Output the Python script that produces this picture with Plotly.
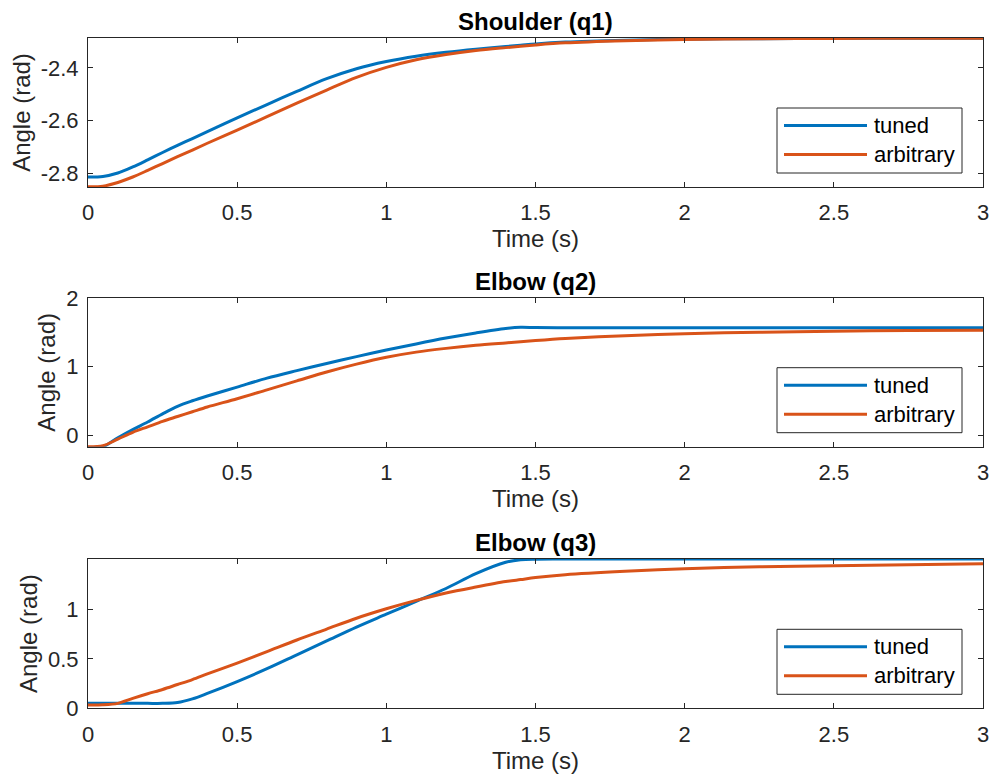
import plotly.graph_objects as go

# ---------------- data ----------------
t = [0, 0.05, 0.1, 0.15, 0.2, 0.25, 0.3, 0.35, 0.4, 0.5, 0.6, 0.7, 0.8, 0.9, 1.0,
     1.1, 1.2, 1.3, 1.4, 1.45, 1.5, 1.6, 1.8, 2.0, 2.25, 2.5, 2.75, 3.0]

q1_tuned = [-2.814, -2.812, -2.799, -2.776, -2.749, -2.721, -2.694, -2.668, -2.642, -2.590,
            -2.539, -2.489, -2.441, -2.403, -2.376, -2.356, -2.341, -2.329, -2.319, -2.314,
            -2.309, -2.302, -2.295, -2.291, -2.289, -2.288, -2.287, -2.287]
q1_arbitrary = [-2.851, -2.849, -2.835, -2.814, -2.789, -2.763, -2.737, -2.712, -2.686, -2.636,
                -2.585, -2.534, -2.484, -2.436, -2.398, -2.369, -2.349, -2.334, -2.323, -2.318,
                -2.313, -2.305, -2.297, -2.292, -2.289, -2.288, -2.287, -2.287]

q2_tuned = [-0.18, -0.17, -0.04, 0.08, 0.19, 0.31, 0.42, 0.50, 0.57, 0.70,
            0.83, 0.94, 1.045, 1.145, 1.24, 1.33, 1.415, 1.49, 1.555, 1.572,
            1.568, 1.565, 1.565, 1.565, 1.565, 1.565, 1.565, 1.565]
q2_arbitrary = [-0.17, -0.155, -0.06, 0.04, 0.12, 0.20, 0.27, 0.34, 0.41, 0.53,
                0.66, 0.79, 0.92, 1.035, 1.135, 1.21, 1.265, 1.31, 1.345, 1.362,
                1.38, 1.41, 1.45, 1.48, 1.50, 1.515, 1.525, 1.53]

q3_tuned = [0.05, 0.05, 0.05, 0.05, 0.05, 0.05, 0.058, 0.095, 0.15, 0.27,
            0.40, 0.54, 0.68, 0.82, 0.95, 1.08, 1.21, 1.36, 1.475, 1.50,
            1.506, 1.507, 1.507, 1.507, 1.507, 1.507, 1.507, 1.507]
q3_arbitrary = [0.033, 0.035, 0.05, 0.10, 0.147, 0.19, 0.24, 0.29, 0.347, 0.457,
                0.573, 0.69, 0.80, 0.91, 1.005, 1.09, 1.165, 1.225, 1.28, 1.30,
                1.32, 1.35, 1.385, 1.41, 1.43, 1.44, 1.45, 1.46]

titles = ["Shoulder (q1)", "Elbow (q2)", "Elbow (q3)"]
series_names = ["tuned", "arbitrary"]
x_ticks = [0, 0.5, 1, 1.5, 2, 2.5, 3]
x_ticklabels = ["0", "0.5", "1", "1.5", "2", "2.5", "3"]
y_ticks = [[-2.8, -2.6, -2.4], [0, 1, 2], [0, 0.5, 1]]
y_ticklabels = [["-2.8", "-2.6", "-2.4"], ["0", "1", "2"], ["0", "0.5", "1"]]
y_ranges = [[-2.852, -2.2865], [-0.17, 2.0], [0.0, 1.508]]

# ---------------- layout geometry (pixels) ----------------
W, H = 992, 781
AX_L, AX_R = 88, 983
AX_TB = [(38, 187), (298, 446.7), (559, 708.3)]

BLUE = "#0072BD"
ORANGE = "#D95319"
AXC = "#262626"
FONT = "Arial, 'Liberation Sans', Helvetica, sans-serif"

data = [(q1_tuned, q1_arbitrary), (q2_tuned, q2_arbitrary), (q3_tuned, q3_arbitrary)]

fig = go.Figure()
annotations = []
shapes = []


def px_x(p):
    return p / W


def px_y(p):
    return 1 - p / H


for i, (yt, ya) in enumerate(data):
    xa = "x" if i == 0 else f"x{i+1}"
    ya_ = "y" if i == 0 else f"y{i+1}"
    for vals, col, name in [(yt, BLUE, series_names[0]), (ya, ORANGE, series_names[1])]:
        fig.add_trace(go.Scatter(
            x=t, y=vals, mode="lines", name=name, showlegend=False,
            line=dict(color=col, width=3, shape="spline", smoothing=0.9),
            xaxis=xa, yaxis=ya_, cliponaxis=True,
        ))

    top, bot = AX_TB[i]
    axis_common = dict(
        showline=True, linecolor=AXC, linewidth=1, mirror="ticks",
        ticks="inside", ticklen=5, tickcolor=AXC, tickwidth=1,
        showgrid=False, zeroline=False, automargin=False,
        tickfont=dict(family=FONT, size=22, color=AXC),
    )
    fig.layout[f"xaxis{'' if i == 0 else i+1}"] = dict(
        domain=[px_x(AX_L), px_x(AX_R)], range=[0, 3],
        tickvals=x_ticks, ticktext=x_ticklabels,
        anchor=ya_, ticklabelstandoff=6,
        title=dict(text="Time (s)", font=dict(family=FONT, size=24, color=AXC), standoff=4),
        **axis_common,
    )
    fig.layout[f"yaxis{'' if i == 0 else i+1}"] = dict(
        domain=[px_y(bot), px_y(top)], range=y_ranges[i],
        tickvals=y_ticks[i], ticktext=y_ticklabels[i],
        anchor=xa, ticklabelstandoff=4,
        title=dict(text="Angle (rad)", font=dict(family=FONT, size=24, color=AXC), standoff=3),
        **axis_common,
    )

    # subplot title
    annotations.append(dict(
        text=f"<b>{titles[i]}</b>", x=px_x((AX_L + AX_R) / 2), y=px_y(top),
        xref="paper", yref="paper", xanchor="center", yanchor="bottom", yshift=1,
        showarrow=False, font=dict(family=FONT, size=24, color="#000000"),
    ))

    # legend box (drawn like MATLAB's legend)
    bx0, bx1 = 777, 962
    by1 = bot - 14
    by0 = by1 - 65
    shapes.append(dict(type="rect", xref="paper", yref="paper",
                       x0=px_x(bx0), x1=px_x(bx1), y0=px_y(by1), y1=px_y(by0),
                       line=dict(color=AXC, width=1), fillcolor="white", layer="above"))
    for k, (col, name) in enumerate([(BLUE, series_names[0]), (ORANGE, series_names[1])]):
        ly = by0 + 17.5 + k * 29
        shapes.append(dict(type="line", xref="paper", yref="paper",
                           x0=px_x(784), x1=px_x(867), y0=px_y(ly), y1=px_y(ly),
                           line=dict(color=col, width=3), layer="above"))
        annotations.append(dict(
            text=name, x=px_x(872), y=px_y(ly), xref="paper", yref="paper",
            xanchor="left", yanchor="middle", showarrow=False,
            font=dict(family=FONT, size=22, color="#000000"),
        ))

fig.update_layout(
    width=W, height=H, autosize=False,
    margin=dict(l=0, r=0, t=0, b=0),
    paper_bgcolor="white", plot_bgcolor="white",
    annotations=annotations, shapes=shapes,
    showlegend=False,
)

fig.write_html("out.html")
